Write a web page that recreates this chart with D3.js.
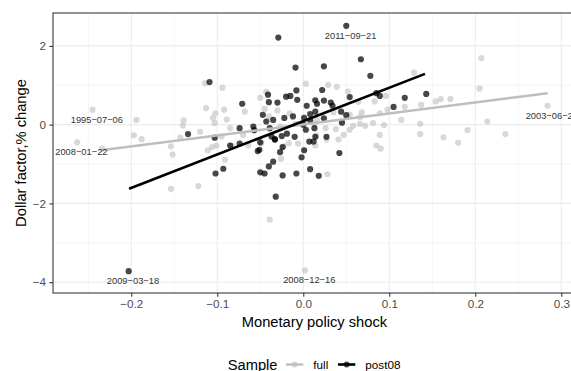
<!DOCTYPE html>
<html>
<head>
<meta charset="utf-8">
<script src="https://cdn.jsdelivr.net/npm/d3@7"></script>
<style>
  body { margin: 0; background: #fff; }
  svg { display: block; font-family: "Liberation Sans", Arial, sans-serif; }
</style>
</head>
<body>
<svg id="chart" width="571" height="371"></svg>
<script>
// full sample (up to end of 2008)
var fullShock = [-0.245, -0.194, -0.197, -0.188, -0.263, -0.234, -0.154, -0.152, -0.154, -0.122,
    -0.139, -0.140, -0.120, -0.114, -0.113, -0.111, 0.003, -0.094, -0.050, -0.043,
    -0.092, -0.068, -0.045, -0.030, -0.102, -0.105, -0.089, -0.040, -0.016, -0.103,
    -0.085, -0.027, -0.009, -0.095, -0.070, 0.029, 0.039, 0.052, 0.129, 0.064,
    0.083, 0.096, 0.154, 0.160, 0.171, 0.118, 0.137, 0.035, 0.068, 0.089,
    0.098, 0.016, 0.058, 0.066, 0.072, 0.081, 0.094, 0.114, 0.136, 0.026,
    0.038, 0.054, 0.015, 0.047, 0.089, 0.136, 0.163, 0.191, 0.207, 0.205,
    0.284, 0.214, 0.235, 0.180, 0.090, -0.106, -0.101, -0.083, -0.064, -0.091,
    -0.049, -0.026, -0.017, -0.006, 0.014, 0.028, -0.039, 0.002, -0.023, 0.085,
    0.054, 0.066, -0.143, 0.027, 0.041, 0.013];
var fullDollar = [0.38, 0.12, -0.27, -0.37, -0.45, -0.61, -0.55, -0.76, -1.63, -1.56,
    0.11, -0.02, -0.18, 1.05, 0.42, -0.65, 1.04, 0.94, 0.68, 0.83,
    0.38, 0.33, 0.40, 0.36, 0.29, 0.17, 0.13, 0.21, 0.29, 0.04,
    -0.09, -0.05, 0.02, -0.30, -0.26, 1.01, 0.96, 0.84, 1.32, 0.58,
    0.59, 0.73, 0.59, 0.65, 0.65, 0.45, 0.50, 0.31, 0.31, 0.29,
    0.38, 0.12, -0.03, 0.02, -0.03, 0.04, -0.01, 0.12, 0.02, -0.09,
    -0.11, -0.13, -0.28, -0.26, -0.26, -0.24, -0.32, -0.14, 1.69, 0.92,
    0.48, 0.08, -0.24, -0.46, -0.61, -0.57, -0.53, -0.53, -0.53, -0.89,
    -0.47, -0.87, -0.47, -0.48, -0.53, -1.26, -2.41, -3.70, -0.55, -0.53,
    0.25, 0.19, -0.33, -0.38, -0.38, 0.01];

// post08 sample
var postShock = [0.050, -0.029, 0.067, -0.009, 0.024, 0.078, -0.109, 0.022, -0.008, -0.041,
    -0.020, -0.015, -0.007, -0.040, -0.030, -0.071, 0.014, 0.024, 0.032, 0.016,
    0.034, 0.004, 0.054, 0.085, 0.089, 0.118, 0.143, 0.105, -0.047, -0.012,
    0.008, 0.014, 0.044, 0.050, -0.043, -0.035, -0.022, 0.001, 0.008, 0.024,
    0.045, -0.074, -0.058, -0.057, -0.039, 0.003, 0.013, -0.134, -0.103, -0.037,
    -0.025, -0.010, 0.014, 0.027, -0.019, -0.033, 0.007, -0.085, -0.074, -0.050,
    -0.051, -0.053, -0.033, -0.027, -0.024, -0.035, -0.040, -0.093, -0.102, -0.050,
    -0.045, -0.024, -0.008, -0.002, 0.001, 0.012, 0.008, 0.018, 0.042, -0.032,
    -0.203, 0.000];
var postDollar = [2.51, 2.21, 1.66, 1.45, 1.48, 1.24, 1.08, 0.88, 0.87, 0.76,
    0.71, 0.73, 0.63, 0.57, 0.56, 0.53, 0.62, 0.61, 0.56, 0.53,
    0.48, 0.48, 0.70, 0.80, 0.73, 0.68, 0.78, 0.45, 0.25, 0.21,
    0.27, 0.33, 0.33, 0.24, 0.08, 0.12, 0.17, 0.17, 0.11, 0.16,
    0.05, -0.09, -0.05, -0.14, -0.09, -0.13, -0.09, -0.24, -0.33, -0.30,
    -0.29, -0.31, -0.31, -0.31, -0.23, -0.37, -0.43, -0.53, -0.48, -0.45,
    -0.64, -0.67, -0.38, -0.70, -0.57, -0.94, -1.06, -1.12, -1.24, -1.21,
    -1.24, -1.29, -1.24, -0.83, -0.65, -0.43, -1.13, -1.30, -0.72, -1.83,
    -3.72, 0.00];

// labelled announcement dates
var labelDates = ["1995−07−06", "2008−01−22", "2003−06−25", "2008−12−16", "2011−09−21", "2009−03−18"];
var labelShock = [-0.245, -0.263, 0.284, 0.002, 0.050, -0.203];
var labelDollar = [0.38, -0.45, 0.48, -3.70, 2.51, -3.72];

// lm fits: intercept, slope, and x span of each line
var fitFull = [0.006, 2.79];
var fitFullSpan = [-0.235, 0.284];
var fitPost = [0.09, 8.48];
var fitPostSpan = [-0.2025, 0.1415];

var xTicks = [-0.2, -0.1, 0, 0.1, 0.2, 0.3];
var xMinor = [-0.25, -0.15, -0.05, 0.05, 0.15, 0.25];
var yTicks = [-4, -2, 0, 2];
var yMinor = [-3, -1, 1];
var seriesNames = ["full", "post08"];

var colFull = "#bebebe";
var colPost = "#000000";

var svg = d3.select("#chart");
var pTop = 13, pBottom = 293, pLeft = 53;

var x = d3.scaleLinear().domain([-0.291, 0.317]).range([pLeft, 575.9]);
var y = d3.scaleLinear().domain([-4.275, 2.835]).range([pBottom, pTop]);

svg.append("clipPath").attr("id", "panel")
    .append("rect")
    .attr("x", pLeft).attr("y", pTop)
    .attr("width", x.range()[1] - pLeft).attr("height", pBottom - pTop);

var grid = svg.append("g");
grid.selectAll(".vmin").data(xMinor).enter().append("line")
    .attr("x1", d => x(d)).attr("x2", d => x(d))
    .attr("y1", pTop).attr("y2", pBottom)
    .attr("stroke", "#ebebeb").attr("stroke-width", 0.55);
grid.selectAll(".hmin").data(yMinor).enter().append("line")
    .attr("y1", d => y(d)).attr("y2", d => y(d))
    .attr("x1", pLeft).attr("x2", x.range()[1])
    .attr("stroke", "#ebebeb").attr("stroke-width", 0.55);
grid.selectAll(".vmaj").data(xTicks).enter().append("line")
    .attr("x1", d => x(d)).attr("x2", d => x(d))
    .attr("y1", pTop).attr("y2", pBottom)
    .attr("stroke", "#ebebeb").attr("stroke-width", 1.07);
grid.selectAll(".hmaj").data(yTicks).enter().append("line")
    .attr("y1", d => y(d)).attr("y2", d => y(d))
    .attr("x1", pLeft).attr("x2", x.range()[1])
    .attr("stroke", "#ebebeb").attr("stroke-width", 1.07);

var panel = svg.append("g").attr("clip-path", "url(#panel)");

// points: full first, post08 on top
panel.append("g").selectAll("circle").data(d3.range(fullShock.length)).enter()
    .append("circle")
    .attr("cx", i => x(fullShock[i]))
    .attr("cy", i => y(fullDollar[i]))
    .attr("r", 3.1)
    .attr("fill", colFull).attr("fill-opacity", 0.6);

panel.append("g").selectAll("circle").data(d3.range(postShock.length)).enter()
    .append("circle")
    .attr("cx", i => x(postShock[i]))
    .attr("cy", i => y(postDollar[i]))
    .attr("r", 3.1)
    .attr("fill", colPost).attr("fill-opacity", 0.72);

// regression lines
var line = d3.line().x(d => x(d[0])).y(d => y(d[1]));
function fitPoints(fit, span) {
    return span.map(v => [v, fit[0] + fit[1] * v]);
}
panel.append("path").datum(fitPoints(fitFull, fitFullSpan))
    .attr("d", line).attr("fill", "none")
    .attr("stroke", colFull).attr("stroke-width", 2.4);
panel.append("path").datum(fitPoints(fitPost, fitPostSpan))
    .attr("d", line).attr("fill", "none")
    .attr("stroke", colPost).attr("stroke-width", 2.6);

// date labels, nudged like geom_text(nudge_x, nudge_y)
panel.append("g").selectAll("text").data(labelDates).enter()
    .append("text")
    .attr("x", (d, i) => x(labelShock[i] + 0.005))
    .attr("y", (d, i) => y(labelDollar[i] - 0.25))
    .attr("text-anchor", "middle")
    .attr("dominant-baseline", "central")
    .attr("font-size", "9.3px")
    .attr("fill", "#333")
    .text(d => d);

// panel border
svg.append("rect")
    .attr("x", pLeft).attr("y", pTop)
    .attr("width", x.range()[1] - pLeft).attr("height", pBottom - pTop)
    .attr("fill", "none").attr("stroke", "#333").attr("stroke-width", 1.07);

// axes
var xAxis = svg.append("g").attr("transform", `translate(0,${pBottom})`)
    .call(d3.axisBottom(x).tickValues(xTicks).tickFormat(d3.format(".1f")).tickSize(3.7).tickPadding(3.4));
var yAxis = svg.append("g").attr("transform", `translate(${pLeft},0)`)
    .call(d3.axisLeft(y).tickValues(yTicks).tickFormat(d3.format("d")).tickSize(3.7).tickPadding(3.3));

[xAxis, yAxis].forEach(function(ax) {
    ax.select(".domain").remove();
    ax.selectAll(".tick line").attr("stroke", "#333").attr("stroke-width", 1.07);
    ax.selectAll(".tick text")
        .attr("fill", "#4d4d4d")
        .attr("font-size", "11.7px")
        .attr("font-family", "Liberation Sans, Arial, sans-serif");
});

// axis titles
svg.append("text")
    .attr("x", (pLeft + x.range()[1]) / 2).attr("y", 327)
    .attr("text-anchor", "middle")
    .attr("font-size", "14.7px").attr("fill", "#000")
    .text("Monetary policy shock");
svg.append("text")
    .attr("transform", `translate(26,${(pTop + pBottom) / 2}) rotate(-90)`)
    .attr("text-anchor", "middle")
    .attr("font-size", "14.7px").attr("fill", "#000")
    .text("Dollar factor,% change");

// legend at the bottom
var legY = 364.5;
var legend = svg.append("g");
legend.append("text")
    .attr("x", 227.7).attr("y", legY)
    .attr("dominant-baseline", "central")
    .attr("font-size", "14.7px")
    .text("Sample");

var keyX = [286, 338];
var keyCol = [colFull, colPost];
var keyOp = [0.6, 0.72];
seriesNames.forEach(function(name, i) {
    var g = legend.append("g").attr("transform", `translate(${keyX[i]},${legY})`);
    g.append("line").attr("x1", 0).attr("x2", 17.3)
        .attr("stroke", keyCol[i]).attr("stroke-width", i ? 2.6 : 2.4);
    g.append("circle").attr("cx", 8.65).attr("r", 2.9)
        .attr("fill", keyCol[i]).attr("fill-opacity", keyOp[i]);
    g.append("text")
        .attr("x", 27.3)
        .attr("dominant-baseline", "central")
        .attr("font-size", "11.7px")
        .text(name);
});
</script>
</body>
</html>
